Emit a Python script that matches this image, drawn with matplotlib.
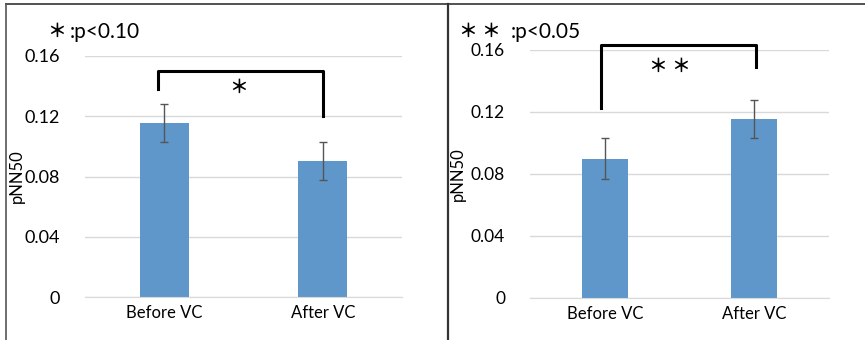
import matplotlib
matplotlib.use("Agg")
import matplotlib.pyplot as plt
from matplotlib.lines import Line2D

plt.rcParams['font.family'] = ['Lato', 'Noto Sans CJK JP', 'DejaVu Sans']

categories = ["Before VC", "After VC"]
left_values = [0.1155, 0.0905]
left_errors = [0.0125, 0.0125]
right_values = [0.090, 0.1155]
right_errors = [0.013, 0.0125]
yticks = [0, 0.04, 0.08, 0.12, 0.16]
ytick_labels = ["0", "0.04", "0.08", "0.12", "0.16"]
y_label = "pNN50"
left_mark = "＊"
left_note = ":p<0.10"
right_mark = "＊ ＊"
right_note = ":p<0.05"

bar_color = "#6097CB"
grid_color = "#D9D9D9"
star_font = ['Noto Sans CJK JP', 'DejaVu Sans']

fig = plt.figure(figsize=(8.65, 3.4), dpi=100)

def panel(rect, values, errors, tick_fs):
    ax = fig.add_axes(rect)
    x = list(range(len(categories)))
    ax.bar(x, values, width=0.31, color=bar_color, zorder=2)
    ax.errorbar(x, values, yerr=errors, fmt='none', ecolor='#555555',
                elinewidth=1.0, capsize=3, capthick=1.0, zorder=3)
    ax.set_xlim(-0.5, 1.5)
    ax.set_ylim(0, 0.16)
    ax.set_yticks(yticks)
    ax.set_yticklabels(ytick_labels, fontsize=tick_fs)
    ax.set_xticks(x)
    ax.set_xticklabels(categories, fontsize=12)
    ax.yaxis.grid(True, color=grid_color, linewidth=1.0, zorder=0)
    ax.set_axisbelow(True)
    for s in ["top", "right", "left"]:
        ax.spines[s].set_visible(False)
    ax.spines["bottom"].set_color(grid_color)
    ax.tick_params(axis='both', length=0, colors='#000000')
    ax.tick_params(axis='y', pad=18)
    ax.tick_params(axis='x', pad=6)
    return ax

axL = panel([85/865, 43/340, 317/865, 241/340], left_values, left_errors, 13)
axR = panel([530/865, 42/340, 299/865, 248/340], right_values, right_errors, 12.5)

axL.set_ylabel(y_label, fontsize=12)
axL.yaxis.set_label_coords(-0.19, 0.5)
axR.set_ylabel(y_label, fontsize=12)
axR.yaxis.set_label_coords(-0.215, 0.5)

# brackets
axL.plot([-0.04, -0.04, 1.0, 1.0], [0.138, 0.150, 0.150, 0.120],
         color='black', linewidth=2.2, clip_on=False, zorder=4)
axL.text(0.47, 0.139, left_mark, ha='center', va='center', fontsize=13.5,
         family=star_font, fontweight='bold')

axR.plot([-0.027, -0.027, 1.01, 1.01], [0.1226, 0.163, 0.163, 0.149],
         color='black', linewidth=2.2, clip_on=False, zorder=4)
axR.text(0.435, 0.1497, right_mark, ha='center', va='center', fontsize=13.5,
         family=star_font, fontweight='bold')

# notes
fig.text(47/865, 1 - 31/340, left_mark, ha='left', va='center', fontsize=13.5,
         family=star_font, fontweight='bold')
fig.text(70/865, 1 - 32/340, left_note, ha='left', va='center', fontsize=15)
fig.text(459/865, 1 - 31/340, right_mark, ha='left', va='center', fontsize=13.5,
         family=star_font, fontweight='bold')
fig.text(511/865, 1 - 32/340, right_note, ha='left', va='center', fontsize=15)

# frame lines
fig.add_artist(Line2D([6/865, 1], [1 - 4/340, 1 - 4/340], color='#333333', linewidth=1.2))
fig.add_artist(Line2D([6/865, 6/865], [0, 1 - 4/340], color='#555555', linewidth=1.2))
fig.add_artist(Line2D([448/865, 448/865], [0, 1 - 4/340], color='#333333', linewidth=1.6))

fig.savefig("out.png", dpi=100)
